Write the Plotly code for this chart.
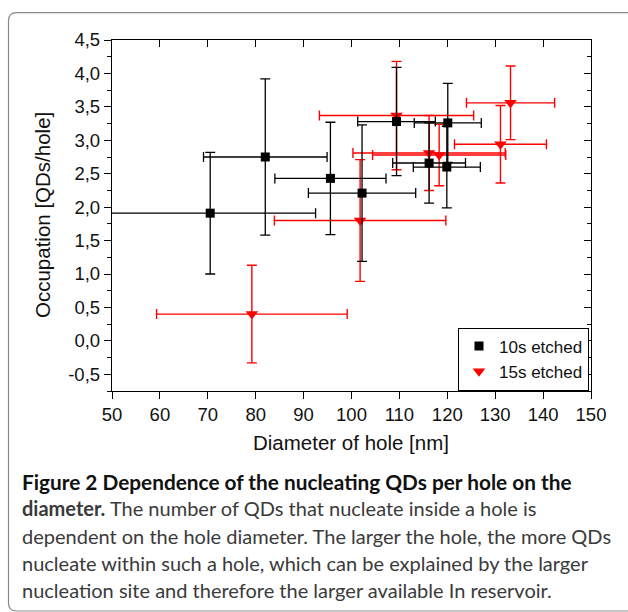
import plotly.graph_objects as go

# ---- data ----
black_x = [70.5, 82.0, 95.6, 102.2, 109.4, 116.2, 120.1, 119.9]
black_y = [1.91, 2.75, 2.43, 2.21, 3.28, 2.66, 3.26, 2.60]
black_xerr = [22.0, 12.9, 11.6, 11.2, 8.1, 7.6, 7.0, 7.0]
black_yerr = [0.91, 1.17, 0.84, 1.02, 0.81, 0.60, 0.59, 0.61]

red_x = [79.2, 101.8, 109.4, 116.2, 118.3, 131.1, 133.2]
red_y = [0.40, 1.80, 3.37, 2.81, 2.78, 2.94, 3.56]
red_xerr = [19.9, 17.9, 16.1, 15.9, 13.9, 9.6, 9.2]
red_yerr = [0.73, 0.91, 0.81, 0.56, 0.46, 0.58, 0.55]

x_ticks = [50, 60, 70, 80, 90, 100, 110, 120, 130, 140, 150]
y_ticks = [-0.5, 0.0, 0.5, 1.0, 1.5, 2.0, 2.5, 3.0, 3.5, 4.0, 4.5]
y_ticktext = ["-0,5", "0,0", "0,5", "1,0", "1,5", "2,0", "2,5", "3,0", "3,5", "4,0", "4,5"]

series_names = ["10s etched", "15s etched"]
x_title = "Diameter of hole [nm]"
y_title = "Occupation [QDs/hole]"
caption_lines = [
    "<b>Figure 2 Dependence of the nucleating QDs per hole on the</b>",
    "<b>diameter.</b> The number of QDs that nucleate inside a hole is",
    "dependent on the hole diameter. The larger the hole, the more QDs",
    "nucleate within such a hole, which can be explained by the larger",
    "nucleation site and therefore the larger available In reservoir.",
]

# ---- layout geometry ----
W, H = 628, 612
L, R, T, B = 112, 37, 40, 221
PW, PH = W - L - R, H - T - B


def px(xp):
    return (xp - L) / PW


def py(yp):
    return (H - B - yp) / PH


AX_FONT = "Liberation Sans, Arial, sans-serif"
CAP_FONT = "Lato, sans-serif"

fig = go.Figure()

fig.add_trace(go.Scatter(
    x=red_x, y=red_y, mode="markers", name=series_names[1], legendrank=2,
    marker=dict(symbol="triangle-down", size=11, color="#ff0000"),
    error_x=dict(type="data", array=red_xerr, color="#ff0000", thickness=1.4, width=5),
    error_y=dict(type="data", array=red_yerr, color="#ff0000", thickness=1.4, width=5),
))
fig.add_trace(go.Scatter(
    x=black_x, y=black_y, mode="markers", name=series_names[0], legendrank=1,
    marker=dict(symbol="square", size=9, color="#000000"),
    error_x=dict(type="data", array=black_xerr, color="#000000", thickness=1.3, width=5),
    error_y=dict(type="data", array=black_yerr, color="#000000", thickness=1.3, width=5),
))
# dummy trace for mirrored (top/right) axes
fig.add_trace(go.Scatter(x=[None], y=[None], xaxis="x2", yaxis="y2",
                         showlegend=False, hoverinfo="skip"))

xr = [50, 150]
yr = [-0.75, 4.5]

fig.update_layout(
    width=W, height=H,
    margin=dict(l=L, r=R, t=T, b=B),
    paper_bgcolor="white", plot_bgcolor="white",
    showlegend=True,
    legend=dict(
        x=px(589), y=py(359), xanchor="right", yanchor="middle",
        bordercolor="#000", borderwidth=1, bgcolor="white",
        font=dict(family=AX_FONT, size=17, color="#111"),
        itemwidth=30, tracegroupgap=0,
    ),
    xaxis=dict(
        range=xr, tickvals=x_ticks, ticks="outside", ticklen=7, tickwidth=1.3,
        tickcolor="#000", showline=True, linecolor="#000", linewidth=1.4,
        showgrid=False, zeroline=False,
        tickfont=dict(family=AX_FONT, size=18.5, color="#111"),
    ),
    yaxis=dict(
        range=yr, tickvals=y_ticks, ticktext=y_ticktext, ticks="outside",
        ticklen=7, tickwidth=1.3, tickcolor="#000",
        minor=dict(dtick=0.25, tick0=0, ticks="outside", ticklen=4, tickwidth=1.2, tickcolor="#000"),
        showline=True, linecolor="#000", linewidth=1.4,
        showgrid=False, zeroline=False,
        tickfont=dict(family=AX_FONT, size=18.5, color="#111"),
    ),
    xaxis2=dict(
        range=xr, overlaying="x", side="top", anchor="y2", tickvals=x_ticks,
        ticks="inside", ticklen=7, tickwidth=1.3, tickcolor="#000",
        showticklabels=False, showline=True, linecolor="#000", linewidth=1.4,
        showgrid=False, zeroline=False,
    ),
    yaxis2=dict(
        range=yr, overlaying="y", side="right", anchor="x2", tickvals=y_ticks,
        ticks="inside", ticklen=7, tickwidth=1.3, tickcolor="#000",
        minor=dict(dtick=0.25, tick0=0, ticks="inside", ticklen=4, tickwidth=1.2, tickcolor="#000"),
        showticklabels=False, showline=True, linecolor="#000", linewidth=1.4,
        showgrid=False, zeroline=False,
    ),
)

annotations = [
    dict(text=x_title, x=px(351), y=py(442), xref="paper", yref="paper",
         xanchor="center", yanchor="middle", showarrow=False,
         font=dict(family=AX_FONT, size=20.5, color="#111")),
    dict(text=y_title, x=px(42), y=py(215), xref="paper", yref="paper",
         xanchor="center", yanchor="middle", showarrow=False, textangle=-90,
         font=dict(family=AX_FONT, size=20.5, color="#111")),
]
cap_y = [481, 508, 536, 563, 590]
cap_size = [20.8, 20, 20, 20, 20]
for i, line in enumerate(caption_lines):
    annotations.append(dict(
        text=line, x=px(20), y=py(cap_y[i]), xref="paper", yref="paper",
        xanchor="left", yanchor="middle", showarrow=False, align="left",
        font=dict(family=CAP_FONT, size=cap_size[i], color="#111" if i == 0 else "#3a3a3a"),
    ))
fig.update_layout(annotations=annotations)

# outer rounded frame (drawn in paper coordinates from pixel positions)
rad = 8
fl, ft, fb, fr = 8.5, 12.7, 611, 660
path = (
    f"M {px(fr)} {py(ft)} L {px(fl + rad)} {py(ft)} "
    f"Q {px(fl)} {py(ft)} {px(fl)} {py(ft + rad)} "
    f"L {px(fl)} {py(fb - rad)} "
    f"Q {px(fl)} {py(fb)} {px(fl + rad)} {py(fb)} "
    f"L {px(fr)} {py(fb)}"
)
fig.add_shape(type="path", path=path, xref="paper", yref="paper",
              line=dict(color="#888888", width=1.2), layer="below")

fig.write_html("out.html")
